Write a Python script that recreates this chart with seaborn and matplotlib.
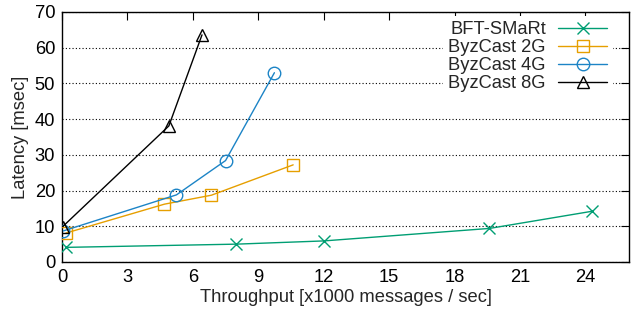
import matplotlib
matplotlib.use("Agg")
import matplotlib.pyplot as plt
import seaborn as sns
import pandas as pd

series_names = ["BFT-SMaRt", "ByzCast 2G", "ByzCast 4G", "ByzCast 8G"]
bft_x = [0.2, 8.0, 12.0, 19.6, 24.3]
bft_y = [4.1, 5.0, 5.9, 9.4, 14.2]
g2_x = [0.18, 4.7, 6.85, 10.6]
g2_y = [8.1, 16.2, 18.7, 27.2]
g4_x = [0.06, 5.25, 7.5, 9.74]
g4_y = [8.7, 18.8, 28.4, 53.0]
g8_x = [0.03, 4.9, 6.42]
g8_y = [9.9, 38.1, 63.6]

x_ticks = [0, 3, 6, 9, 12, 15, 18, 21, 24]
y_ticks = [0, 10, 20, 30, 40, 50, 60, 70]

sns.set_theme(style="white")
plt.rcParams["font.family"] = ["Liberation Sans", "DejaVu Sans"]
FS = 13.2

fig = plt.figure(figsize=(6.37, 3.14), dpi=100)
ax = fig.add_axes([62 / 637, (314 - 262) / 314, (629 - 62) / 637, (262 - 12) / 314])

colors = ["#009e73", "#e69f00", "#1c84c6", "#000000"]
markers = ["x", "s", "o", "^"]
msizes = [9, 9, 9, 8]
xs = [bft_x, g2_x, g4_x, g8_x]
ys = [bft_y, g2_y, g4_y, g8_y]

for name, x, y, c, m, ms in zip(series_names, xs, ys, colors, markers, msizes):
    df = pd.DataFrame({"x": x, "y": y})
    sns.lineplot(data=df, x="x", y="y", ax=ax, color=c, marker=m, markersize=ms,
                 markerfacecolor="none", markeredgecolor=c, markeredgewidth=1.0,
                 linewidth=1.0, label=name, zorder=3)

ax.set_xlim(0, 26.0)
ax.set_ylim(0, 70)
ax.set_xticks(x_ticks)
ax.set_yticks(y_ticks)
ax.set_xlabel("Throughput [x1000 messages / sec]", fontsize=FS, labelpad=2)
ax.set_ylabel("Latency [msec]", fontsize=FS, labelpad=4)

ax.tick_params(direction="in", length=6, width=0.8, top=True, right=True,
               labelsize=FS, colors="black", pad=5)
for s in ax.spines.values():
    s.set_color("black")
    s.set_linewidth(1.0)
    s.set_visible(True)

ax.yaxis.grid(True, linestyle=(0, (1, 2)), color="black", linewidth=0.8)
ax.xaxis.grid(False)
ax.set_axisbelow(True)

leg = ax.legend(loc="upper right", bbox_to_anchor=(0.978, 1.0), markerfirst=False,
                frameon=True, framealpha=1.0, facecolor="white", edgecolor="none",
                fontsize=FS, handlelength=2.7, labelspacing=0.05, handletextpad=0.65,
                borderpad=0.3, fancybox=False, borderaxespad=0.2)
leg.get_frame().set_linewidth(0)

fig.savefig("out.png", dpi=100)
